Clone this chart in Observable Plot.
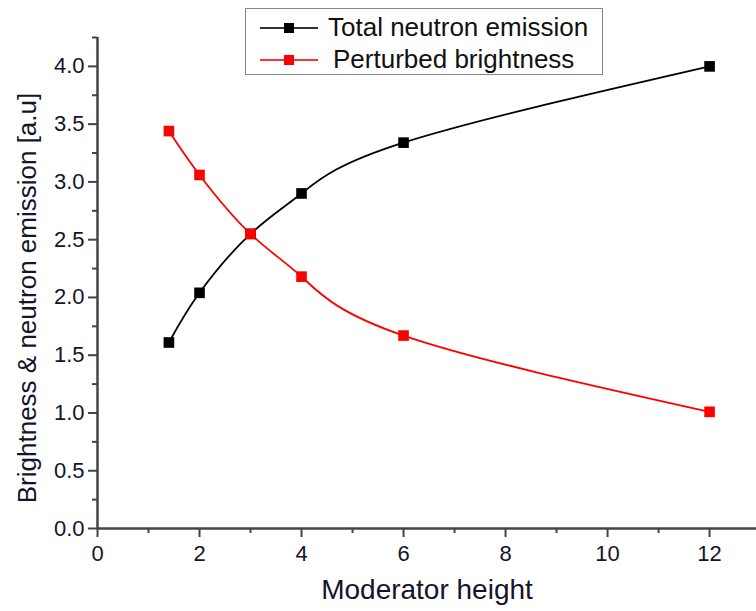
<!DOCTYPE html>
<html><head><meta charset="utf-8">
<script src="https://cdn.jsdelivr.net/npm/d3@7"></script>
<script src="https://cdn.jsdelivr.net/npm/@observablehq/plot@0.6"></script>
<style>
body{margin:0;background:#fff;font-family:"Liberation Sans",Arial,sans-serif;}
#wrap{position:relative;width:756px;height:611px;overflow:hidden;}
#legend{position:absolute;left:245px;top:8px;width:358px;height:67px;border:1.5px solid #888;background:#fff;box-sizing:border-box;font-size:26px;color:#111;}
#legend .row{position:absolute;left:12px;display:flex;align-items:center;}
</style></head>
<body><div id="wrap"><div id="legend"></div></div>
<script>
const heights = [1.4, 2, 3, 4, 6, 12];
const totalNeutron = [1.61, 2.04, 2.55, 2.90, 3.34, 4.00];
const perturbed = [3.44, 3.06, 2.55, 2.18, 1.67, 1.01];
const seriesNames = ["Total neutron emission", "Perturbed brightness"];
const seriesColors = ["#000000", "#ff0000"];
const xMajor = [0, 2, 4, 6, 8, 10, 12];
const xMinor = [1, 3, 5, 7, 9, 11];
const yMajor = [0, 0.5, 1, 1.5, 2, 2.5, 3, 3.5, 4];
const yMinor = [0.25, 0.75, 1.25, 1.75, 2.25, 2.75, 3.25, 3.75, 4.25];

const data = [];
heights.forEach((h, i) => {
  data.push({x: h, y: totalNeutron[i], s: seriesNames[0]});
  data.push({x: h, y: perturbed[i], s: seriesNames[1]});
});
const axisColor = "#444";
const chart = Plot.plot({
  width: 756, height: 611,
  marginLeft: 97, marginRight: 0, marginTop: 37, marginBottom: 83,
  style: {fontFamily: "Liberation Sans, Arial, sans-serif", fontSize: "22px", color: "#14142a", background: "transparent"},
  x: {domain: [0, 12.92]},
  y: {domain: [0, 4.25]},
  color: {domain: seriesNames, range: seriesColors},
  marks: [
    Plot.axisX({ticks: xMinor, tickSize: 5, tickFormat: () => "", stroke: axisColor, strokeWidth: 2, label: null}),
    Plot.axisX({ticks: xMajor, tickSize: 9, tickPadding: 8, stroke: axisColor, strokeWidth: 2, fontSize: 22, label: null}),
    Plot.axisX({ticks: [], label: "Moderator height", labelAnchor: "center", labelArrow: "none", labelOffset: 70, fontSize: 28, dx: 3}),
    Plot.axisY({ticks: yMinor, tickSize: 5, tickFormat: () => "", stroke: axisColor, strokeWidth: 2, label: null}),
    Plot.axisY({ticks: yMajor, tickSize: 9, tickPadding: 4, tickFormat: d3.format(".1f"), stroke: axisColor, strokeWidth: 2, fontSize: 22, label: null}),
    Plot.axisY({ticks: [], label: "Brightness & neutron emission [a.u]", labelAnchor: "center", labelArrow: "none", labelOffset: 80, fontSize: 26}),
    Plot.ruleY([0], {stroke: axisColor, strokeWidth: 2.5}),
    Plot.ruleX([0], {stroke: axisColor, strokeWidth: 2.5}),
    Plot.line(data, {x: "x", y: "y", z: "s", stroke: "s", strokeWidth: 1.8, curve: "natural"}),
    Plot.dot(data, {x: "x", y: "y", fill: "s", symbol: "square", r: 6})
  ]
});
const yl = d3.select(chart).select("g[aria-label='y-axis label']");
yl.attr("transform", (yl.attr("transform") || "") + " translate(0,15)");
document.getElementById("wrap").prepend(chart);

const leg = document.getElementById("legend");
seriesNames.forEach((name, i) => {
  const row = document.createElement("div");
  row.className = "row";
  row.style.top = (i === 0 ? 3 : 35) + "px";
  const c = seriesColors[i];
  const lc = i === 0 ? "#333" : "#ff3333";
  row.innerHTML = `<svg width="62" height="26"><line x1="2" x2="60" y1="13" y2="13" stroke="${lc}" stroke-width="2"/><rect x="26" y="8" width="10" height="10" fill="${c}"/></svg><span style="margin-left:${i===0?8:13}px">${name}</span>`;
  leg.appendChild(row);
});
</script></body></html>
